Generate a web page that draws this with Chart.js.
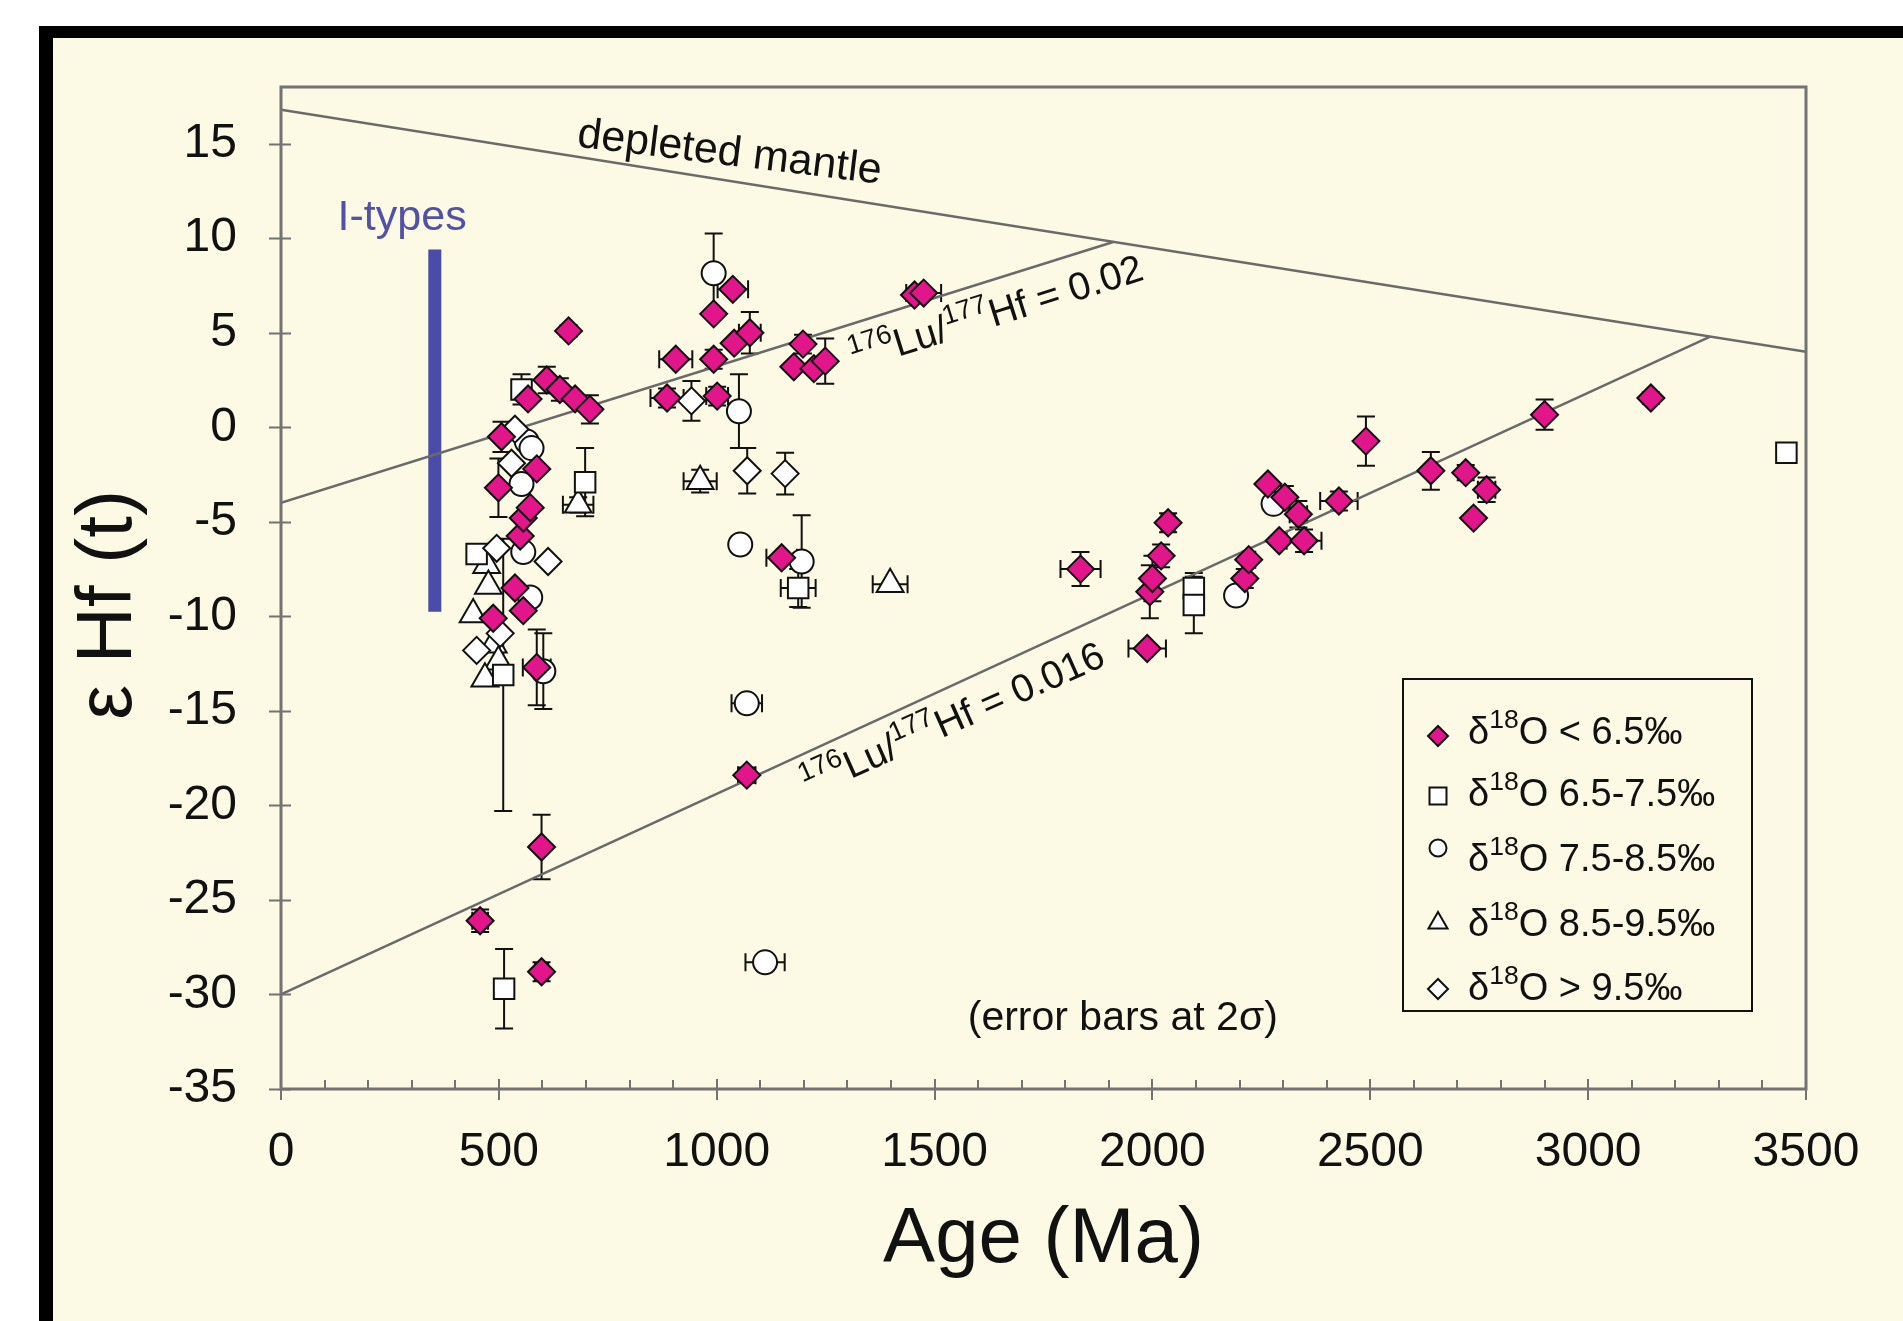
<!DOCTYPE html>
<html>
<head>
<meta charset="utf-8">
<script src="https://cdn.jsdelivr.net/npm/chart.js@4.4.1/dist/chart.umd.min.js"></script>
<style>
html,body{margin:0;padding:0;background:#ffffff;}
#c{display:block;}
</style>
</head>
<body>
<canvas id="c" width="1903" height="1321"></canvas>
<script>
// ---------------- data ----------------
const X_TICKS = [0, 500, 1000, 1500, 2000, 2500, 3000, 3500];
const Y_TICKS = [-35, -30, -25, -20, -15, -10, -5, 0, 5, 10, 15];
const X_MINOR_STEP = 100;

// δ18O < 6.5‰ (filled magenta diamonds)
const LOW_AGE     = [457, 487, 499, 506, 537, 549, 556, 556, 567, 572, 587, 587, 598, 598, 610, 640, 660, 675, 709, 886, 906, 993, 993, 1001, 1037, 1040, 1069, 1076, 1149, 1177, 1198, 1223, 1249, 1454, 1475, 1835, 1988, 1994, 2000, 2020, 2036, 2212, 2221, 2265, 2291, 2304, 2335, 2348, 2428, 2490, 2639, 2719, 2737, 2767, 2900, 3144];
const LOW_EHF     = [-26.1, -10.1, -3.2, -0.5, -8.5, -5.75, -4.8, -9.7, 1.5, -4.25, -2.2, -12.7, -22.2, -28.8, 2.5, 2.0, 5.1, 1.5, 0.95, 1.55, 3.6, 3.6, 6.0, 1.65, 7.3, 4.45, -18.4, 5.0, -6.9, 3.2, 4.4, 3.1, 3.5, 7.0, 7.1, -7.5, -11.7, -8.7, -8.0, -6.8, -5.05, -8.0, -7.0, -3.0, -6.0, -3.7, -4.6, -6.0, -3.9, -0.73, -2.3, -2.4, -4.8, -3.3, 0.67, 1.55];
const LOW_AGE_ERR = [18, 0, 0, 0, 0, 0, 0, 0, 0, 0, 0, 32, 0, 15, 0, 0, 0, 0, 0, 38, 38, 0, 0, 25, 35, 0, 20, 25, 35, 0, 0, 0, 0, 0, 40, 46, 43, 0, 0, 0, 15, 0, 15, 0, 0, 0, 20, 40, 43, 0, 0, 0, 0, 20, 0, 0];
const LOW_EHF_ERR = [0.6, 0, 1.55, 0.8, 0, 0, 0, 0, 0, 0, 0, 2.0, 1.7, 0.5, 0.7, 0.6, 0.3, 0, 0.75, 0.5, 0, 0.5, 0, 0.5, 0, 0, 0.4, 1.1, 0, 0, 0.5, 0, 1.2, 0, 0, 0.9, 0, 1.4, 1.2, 0.6, 0.5, 0.5, 0, 0, 0, 0.6, 0.7, 0.6, 0.5, 1.3, 1.0, 0.4, 0, 0.65, 0.8, 0.3];

// δ18O 6.5-7.5‰ (open squares)
const SQ_AGE     = [449, 510, 512, 552, 698, 1187, 2095, 2095, 3455];
const SQ_EHF     = [-6.7, -13.1, -29.7, 2.0, -2.9, -8.5, -8.5, -9.4, -1.35];
const SQ_AGE_ERR = [0, 0, 0, 20, 0, 40, 0, 0, 0];
const SQ_EHF_ERR = [0, 7.2, 2.1, 0.8, 1.8, 1.0, 0.8, 1.5, 0];

// δ18O 7.5-8.5‰ (open circles)
const CI_AGE     = [564, 575, 552, 556, 572, 602, 993, 1051, 1054, 1195, 1069, 1111, 2192, 2278];
const CI_EHF     = [-0.75, -1.1, -3.0, -6.6, -9.0, -12.9, 8.15, 0.85, -6.2, -7.1, -14.6, -28.3, -8.9, -4.05];
const CI_AGE_ERR = [0, 0, 0, 0, 0, 0, 0, 0, 0, 0, 35, 45, 0, 0];
const CI_EHF_ERR = [0, 0, 0, 0, 0, 2.0, 2.1, 1.95, 0, 2.45, 0, 0, 0, 0];

// δ18O 8.5-9.5‰ (open triangles)
const TR_AGE     = [441, 472, 476, 487, 499, 468, 682, 962, 1398];
const TR_EHF     = [-9.9, -7.3, -8.4, -11.5, -12.4, -13.3, -4.1, -2.85, -8.3];
const TR_AGE_ERR = [0, 0, 0, 0, 0, 0, 35, 38, 40];
const TR_EHF_ERR = [0, 0, 0, 0, 0, 0, 0.4, 0.6, 0];

// δ18O > 9.5‰ (open diamonds)
const HI_AGE     = [537, 529, 495, 613, 503, 449, 942, 1070, 1157];
const HI_EHF     = [-0.1, -1.9, -6.4, -7.1, -10.9, -11.8, 1.4, -2.3, -2.45];
const HI_AGE_ERR = [0, 0, 0, 0, 0, 0, 0, 0, 0];
const HI_EHF_ERR = [0, 0, 0, 0, 0, 0, 1.05, 1.2, 1.1];

// reference lines
const DM_AGE    = [0, 3500];
const DM_EHF    = [16.8, 4.0];
const LU02_AGE  = [0, 1910];
const LU02_EHF  = [-4.0, 9.8];
const LU016_AGE = [0, 3280];
const LU016_EHF = [-30.0, 4.8];
const ITYPE_AGE = [353, 353];
const ITYPE_EHF = [9.4, -9.75];

const LEGEND_LABELS = ['< 6.5‰', '6.5-7.5‰', '7.5-8.5‰', '8.5-9.5‰', '> 9.5‰'];

// ---------------- styles ----------------
const FONT = "'Liberation Sans', Arial, Helvetica, sans-serif";
const CREAM = '#FCF9E5';
const MAGENTA = '#E2168A';
const OPEN = '#FFFFFF';
const INK = '#111111';
const AXIS = '#737373';
const REFLINE = '#6A6A6A';
const BLUE = '#4B4BA8';

function pts(a, b) { return a.map((v, i) => ({x: v, y: b[i]})); }

function markerSet(label, ages, ehfs, aErr, eErr, style, fill, radius, order) {
  return {
    type: 'scatter', label, data: pts(ages, ehfs), errX: aErr, errY: eErr,
    pointStyle: style, pointRadius: radius, pointHoverRadius: radius,
    pointBackgroundColor: fill, pointBorderColor: INK, pointBorderWidth: 2,
    showLine: false, order
  };
}
function lineSet(ages, ehfs, color, width, order) {
  return {
    type: 'line', data: pts(ages, ehfs), borderColor: color, borderWidth: width,
    pointRadius: 0, showLine: true, fill: false, tension: 0, borderCapStyle: 'butt', order
  };
}

// ---------------- helpers ----------------
function richWidth(ctx, parts, size) {
  let w = 0;
  parts.forEach(p => {
    ctx.font = (p.sup ? size * 0.7 : size) + 'px ' + FONT;
    w += ctx.measureText(p.t).width;
  });
  return w;
}
function drawRich(ctx, parts, x, y, size, align) {
  let cx = x;
  if (align === 'center') cx = x - richWidth(ctx, parts, size) / 2;
  ctx.textAlign = 'left';
  ctx.textBaseline = 'alphabetic';
  parts.forEach(p => {
    const s = p.sup ? size * 0.7 : size;
    ctx.font = s + 'px ' + FONT;
    ctx.fillText(p.t, cx, p.sup ? y - size * 0.42 : y);
    cx += ctx.measureText(p.t).width;
  });
}
function lineAngle(xs, ys, ages, ehfs) {
  const x1 = xs.getPixelForValue(ages[0]), y1 = ys.getPixelForValue(ehfs[0]);
  const x2 = xs.getPixelForValue(ages[1]), y2 = ys.getPixelForValue(ehfs[1]);
  return Math.atan2(y2 - y1, x2 - x1);
}

const decor = {
  id: 'decor',
  beforeDraw(chart) {
    const ctx = chart.ctx;
    ctx.save();
    ctx.fillStyle = '#ffffff';
    ctx.fillRect(0, 0, chart.width, chart.height);
    ctx.fillStyle = '#000000';
    ctx.fillRect(39, 26, chart.width, chart.height);
    ctx.fillStyle = CREAM;
    ctx.fillRect(53, 38, chart.width, chart.height);
    ctx.restore();
  },
  beforeDatasetsDraw(chart) {
    const {ctx, chartArea: a, scales: {x, y}} = chart;
    ctx.save();
    ctx.beginPath();
    ctx.rect(a.left, a.top, a.right - a.left, a.bottom - a.top);
    ctx.clip();
    ctx.strokeStyle = INK;
    ctx.lineWidth = 2;
    const cap = 9;
    chart.data.datasets.forEach(ds => {
      if (!ds.errX) return;
      ds.data.forEach((p, i) => {
        const px = x.getPixelForValue(p.x), py = y.getPixelForValue(p.y);
        const ey = ds.errY[i], ex = ds.errX[i];
        ctx.beginPath();
        if (ey > 0) {
          const t = y.getPixelForValue(p.y + ey), b = y.getPixelForValue(p.y - ey);
          ctx.moveTo(px, t); ctx.lineTo(px, b);
          ctx.moveTo(px - cap, t); ctx.lineTo(px + cap, t);
          ctx.moveTo(px - cap, b); ctx.lineTo(px + cap, b);
        }
        if (ex > 0) {
          const l = x.getPixelForValue(p.x - ex), r = x.getPixelForValue(p.x + ex);
          ctx.moveTo(l, py); ctx.lineTo(r, py);
          ctx.moveTo(l, py - cap); ctx.lineTo(l, py + cap);
          ctx.moveTo(r, py - cap); ctx.lineTo(r, py + cap);
        }
        ctx.stroke();
      });
    });
    ctx.restore();
  },
  afterDatasetsDraw(chart) {
    const {ctx, chartArea: a, scales: {x, y}} = chart;
    ctx.save();
    // plot frame
    ctx.strokeStyle = AXIS;
    ctx.lineWidth = 3;
    ctx.strokeRect(a.left, a.top, a.right - a.left, a.bottom - a.top);
    // tick marks
    ctx.lineWidth = 2;
    ctx.beginPath();
    Y_TICKS.forEach(v => {
      const py = Math.round(y.getPixelForValue(v)) + 0.5;
      ctx.moveTo(a.left - 12, py); ctx.lineTo(a.left + 10, py);
    });
    X_TICKS.forEach(v => {
      const px = Math.round(x.getPixelForValue(v));
      ctx.moveTo(px, a.bottom - 10); ctx.lineTo(px, a.bottom + 11);
    });
    for (let v = X_TICKS[0] + X_MINOR_STEP; v < X_TICKS[X_TICKS.length - 1]; v += X_MINOR_STEP) {
      if (X_TICKS.includes(v)) continue;
      const px = Math.round(x.getPixelForValue(v));
      ctx.moveTo(px, a.bottom - 9); ctx.lineTo(px, a.bottom);
    }
    ctx.stroke();

    // annotation texts
    ctx.fillStyle = INK;
    ctx.save();
    ctx.translate(x.getPixelForValue(1026), y.getPixelForValue(13.87));
    ctx.rotate(7 * Math.PI / 180);
    drawRich(ctx, [{t: 'depleted mantle'}], 0, 0, 43, 'center');
    ctx.restore();

    ctx.save();
    ctx.translate(x.getPixelForValue(1317), y.getPixelForValue(3.01));
    ctx.rotate(lineAngle(x, y, LU02_AGE, LU02_EHF));
    drawRich(ctx, [{t: '176', sup: true}, {t: 'Lu/'}, {t: '177', sup: true}, {t: 'Hf = 0.02'}], 0, 0, 39, 'left');
    ctx.restore();

    ctx.save();
    ctx.translate(x.getPixelForValue(1212), y.getPixelForValue(-19.58));
    ctx.rotate(-24 * Math.PI / 180);
    drawRich(ctx, [{t: '176', sup: true}, {t: 'Lu/'}, {t: '177', sup: true}, {t: 'Hf = 0.016'}], 0, 0, 39, 'left');
    ctx.restore();

    ctx.fillStyle = '#5151A8';
    drawRich(ctx, [{t: 'I-types'}], x.getPixelForValue(278), y.getPixelForValue(10.46), 43, 'center');

    ctx.fillStyle = INK;
    drawRich(ctx, [{t: '(error bars at 2σ)'}], x.getPixelForValue(1932), y.getPixelForValue(-31.9), 41, 'center');

    // legend
    const L = {x1: 1403, y1: 679, x2: 1752, y2: 1011};
    ctx.strokeStyle = INK;
    ctx.lineWidth = 2;
    ctx.strokeRect(L.x1, L.y1, L.x2 - L.x1, L.y2 - L.y1);
    const rows = [
      {style: 'rectRot', fill: MAGENTA, r: 10, my: 736, base: 744},
      {style: 'rect', fill: OPEN, r: 12, my: 796, base: 806},
      {style: 'circle', fill: OPEN, r: 8.5, my: 848, base: 871},
      {style: 'triangle', fill: OPEN, r: 11, my: 923, base: 936},
      {style: 'rectRot', fill: OPEN, r: 10, my: 989, base: 1000}
    ];
    rows.forEach((row, i) => {
      ctx.fillStyle = row.fill;
      ctx.strokeStyle = INK;
      ctx.lineWidth = 2;
      Chart.helpers.drawPoint(ctx, {pointStyle: row.style, radius: row.r, rotation: 0, borderWidth: 2}, 1438, row.my);
      ctx.fillStyle = INK;
      drawRich(ctx, [{t: 'δ'}, {t: '18', sup: true}, {t: 'O ' + LEGEND_LABELS[i]}], 1468, row.base, 38, 'left');
    });

    // y-axis title
    ctx.save();
    ctx.translate(109, 605);
    ctx.rotate(-Math.PI / 2);
    ctx.fillStyle = INK;
    ctx.font = '78px ' + FONT;
    ctx.textAlign = 'center';
    ctx.textBaseline = 'middle';
    ctx.fillText('ε Hf (t)', 0, 0);
    ctx.restore();

    ctx.restore();
  }
};

new Chart(document.getElementById('c'), {
  type: 'scatter',
  data: {
    datasets: [
      markerSet('δ18O < 6.5‰', LOW_AGE, LOW_EHF, LOW_AGE_ERR, LOW_EHF_ERR, 'rectRot', MAGENTA, 13.5, 1),
      markerSet('δ18O > 9.5‰', HI_AGE, HI_EHF, HI_AGE_ERR, HI_EHF_ERR, 'rectRot', OPEN, 13.5, 2),
      markerSet('δ18O 7.5-8.5‰', CI_AGE, CI_EHF, CI_AGE_ERR, CI_EHF_ERR, 'circle', OPEN, 12, 3),
      markerSet('δ18O 6.5-7.5‰', SQ_AGE, SQ_EHF, SQ_AGE_ERR, SQ_EHF_ERR, 'rect', OPEN, 14.5, 4),
      markerSet('δ18O 8.5-9.5‰', TR_AGE, TR_EHF, TR_AGE_ERR, TR_EHF_ERR, 'triangle', OPEN, 15.5, 5),
      lineSet(DM_AGE, DM_EHF, REFLINE, 2.5, 10),
      lineSet(LU02_AGE, LU02_EHF, REFLINE, 2.5, 11),
      lineSet(LU016_AGE, LU016_EHF, REFLINE, 2.5, 12),
      lineSet(ITYPE_AGE, ITYPE_EHF, BLUE, 13, 13)
    ]
  },
  options: {
    responsive: false,
    animation: false,
    devicePixelRatio: 1,
    layout: {padding: {left: 0, right: 97, top: 87, bottom: 0}},
    plugins: {legend: {display: false}, tooltip: {enabled: false}},
    events: [],
    scales: {
      x: {
        type: 'linear', position: 'bottom', min: 0, max: 3500,
        afterBuildTicks: s => { s.ticks = X_TICKS.map(v => ({value: v})); },
        afterFit: s => { s.height = 232; },
        grid: {display: false}, border: {display: false},
        ticks: {font: {family: FONT, size: 48}, color: INK, padding: 27, maxRotation: 0, autoSkip: false,
                callback: v => String(v)},
        title: {display: true, text: 'Age (Ma)', font: {family: FONT, size: 78}, color: INK, padding: {top: 0, bottom: 34}}
      },
      y: {
        type: 'linear', position: 'left', min: -35, max: 18,
        afterBuildTicks: s => { s.ticks = Y_TICKS.map(v => ({value: v})); },
        afterFit: s => { s.width = 281; },
        grid: {display: false}, border: {display: false},
        ticks: {font: {family: FONT, size: 48}, color: INK, padding: 36, autoSkip: false,
                callback: v => String(v)}
      }
    }
  },
  plugins: [decor]
});
</script>
</body>
</html>
